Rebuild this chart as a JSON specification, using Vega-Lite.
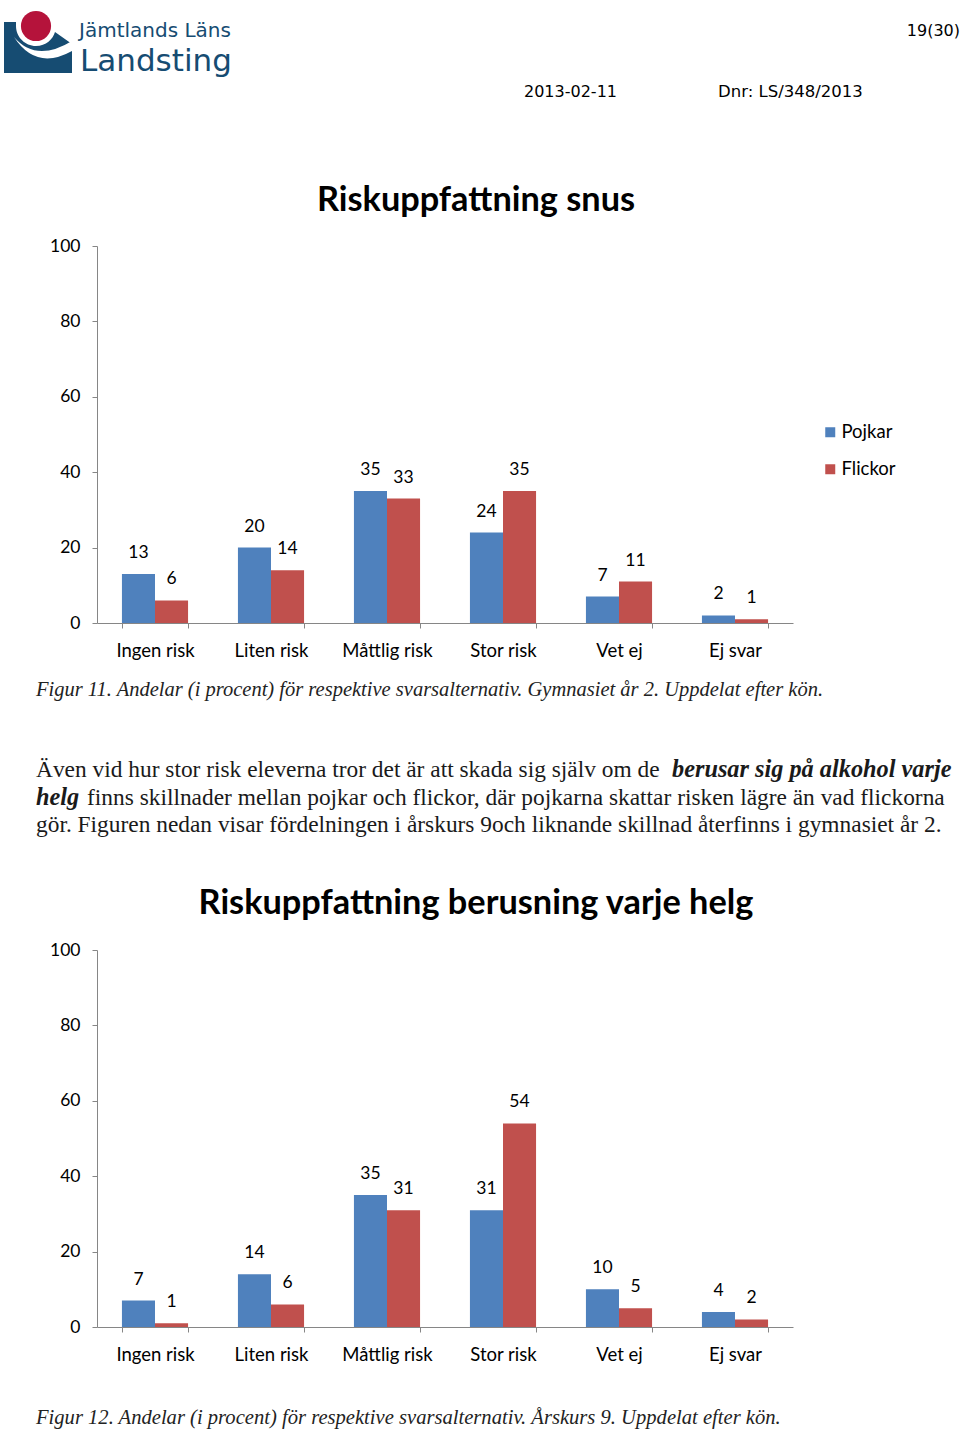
{
  "$schema": "https://vega.github.io/schema/vega-lite/v6.json",
  "background": "white",
  "padding": {"left": 4, "top": 10, "right": 0, "bottom": 0},
  "bounds": "flush",
  "spacing": 327,
  "config": {
    "view": {"stroke": null},
    "font": "Lato",
    "axis": {"domainColor": "#868686", "tickColor": "#868686", "labelColor": "#000000", "labelFont": "Lato", "labelFontSize": 17.5, "tickSize": 5, "grid": false, "title": null, "labelPadding": 12},
    "legend": {"title": null, "orient": "none", "legendX": 724, "legendY": 177, "symbolType": "square", "symbolSize": 100, "labelFont": "Lato", "labelFontSize": 18.5, "labelColor": "#000000", "rowPadding": 18, "labelOffset": 2, "padding": 0, "symbolStrokeWidth": 0}
  },
  "datasets": {
    "snus": [
      {"Svar": "Ingen risk", "Kon": "Pojkar", "Andel": 13},
      {"Svar": "Ingen risk", "Kon": "Flickor", "Andel": 6},
      {"Svar": "Liten risk", "Kon": "Pojkar", "Andel": 20},
      {"Svar": "Liten risk", "Kon": "Flickor", "Andel": 14},
      {"Svar": "Måttlig risk", "Kon": "Pojkar", "Andel": 35},
      {"Svar": "Måttlig risk", "Kon": "Flickor", "Andel": 33},
      {"Svar": "Stor risk", "Kon": "Pojkar", "Andel": 24},
      {"Svar": "Stor risk", "Kon": "Flickor", "Andel": 35},
      {"Svar": "Vet ej", "Kon": "Pojkar", "Andel": 7},
      {"Svar": "Vet ej", "Kon": "Flickor", "Andel": 11},
      {"Svar": "Ej svar", "Kon": "Pojkar", "Andel": 2},
      {"Svar": "Ej svar", "Kon": "Flickor", "Andel": 1}
    ],
    "helg": [
      {"Svar": "Ingen risk", "Kon": "Pojkar", "Andel": 7},
      {"Svar": "Ingen risk", "Kon": "Flickor", "Andel": 1},
      {"Svar": "Liten risk", "Kon": "Pojkar", "Andel": 14},
      {"Svar": "Liten risk", "Kon": "Flickor", "Andel": 6},
      {"Svar": "Måttlig risk", "Kon": "Pojkar", "Andel": 35},
      {"Svar": "Måttlig risk", "Kon": "Flickor", "Andel": 31},
      {"Svar": "Stor risk", "Kon": "Pojkar", "Andel": 31},
      {"Svar": "Stor risk", "Kon": "Flickor", "Andel": 54},
      {"Svar": "Vet ej", "Kon": "Pojkar", "Andel": 10},
      {"Svar": "Vet ej", "Kon": "Flickor", "Andel": 5},
      {"Svar": "Ej svar", "Kon": "Pojkar", "Andel": 4},
      {"Svar": "Ej svar", "Kon": "Flickor", "Andel": 2}
    ]
  },
  "vconcat": [
    {
      "width": 696,
      "height": 377,
      "layer": [
        {
          "data": {"name": "snus"},
          "mark": {"type": "bar"},
          "encoding": {
            "x": {"field": "Svar", "type": "nominal", "sort": ["Ingen risk", "Liten risk", "Måttlig risk", "Stor risk", "Vet ej", "Ej svar"], "scale": {"paddingInner": 0.43, "paddingOuter": 0.215}, "axis": {"labelAngle": 0, "tickBand": "extent", "labelFontSize": 18.5, "labelPadding": 13}},
            "xOffset": {"field": "Kon", "type": "nominal", "sort": ["Pojkar", "Flickor"], "scale": {"paddingInner": 0, "paddingOuter": 0}},
            "y": {"field": "Andel", "type": "quantitative", "scale": {"domain": [0, 100]}, "axis": {"values": [0, 20, 40, 60, 80, 100]}},
            "color": {"field": "Kon", "type": "nominal", "scale": {"domain": ["Pojkar", "Flickor"], "range": ["#4F81BD", "#C0504D"]}}
          }
        },
        {
          "data": {"name": "snus"},
          "mark": {"type": "text", "baseline": "middle", "dy": -21, "fontSize": 17.5, "font": "Lato", "color": "#000000"},
          "encoding": {
            "x": {"field": "Svar", "type": "nominal", "sort": ["Ingen risk", "Liten risk", "Måttlig risk", "Stor risk", "Vet ej", "Ej svar"]},
            "xOffset": {"field": "Kon", "type": "nominal", "sort": ["Pojkar", "Flickor"]},
            "y": {"field": "Andel", "type": "quantitative"},
            "text": {"field": "Andel", "type": "quantitative"}
          }
        },
        {
          "data": {"values": [{}]},
          "mark": {"type": "point", "shape": "M-1,-0.765 L-0.647,-0.765 L-0.647,-0.647 C-0.647,-0.324 -0.382,-0.059 -0.059,-0.059 C0.235,-0.059 0.441,-0.265 0.5,-0.471 L1,-0.118 L1,0.735 L-1,0.735 Z", "filled": true, "size": 4624, "color": "#164C72", "opacity": 1, "strokeWidth": 0},
          "encoding": {"x": {"value": -59}, "y": {"value": -198}}
        },
        {
          "data": {"values": [{}]},
          "mark": {"type": "point", "shape": "M-0.706,-0.324 Q-0.059,0.441 1,-0.206 L1,0.088 Q-0.059,0.676 -0.706,-0.324 Z", "filled": true, "size": 4624, "color": "#ffffff", "opacity": 1, "strokeWidth": 0},
          "encoding": {"x": {"value": -59}, "y": {"value": -198}}
        },
        {
          "data": {"values": [{}]},
          "mark": {"type": "point", "shape": "circle", "filled": true, "size": 908, "color": "#B5133B", "opacity": 1, "strokeWidth": 0},
          "encoding": {"x": {"value": -61}, "y": {"value": -220}}
        },
        {
          "data": {"values": [{}]},
          "mark": {"type": "text", "align": "left", "baseline": "alphabetic", "font": "DejaVu Sans", "fontSize": 20, "color": "#164C72", "text": "Jämtlands Läns"},
          "encoding": {"x": {"value": -18}, "y": {"value": -209}}
        },
        {
          "data": {"values": [{}]},
          "mark": {"type": "text", "align": "left", "baseline": "alphabetic", "font": "DejaVu Sans", "fontSize": 31, "color": "#164C72", "text": "Landsting"},
          "encoding": {"x": {"value": -17}, "y": {"value": -175}}
        },
        {
          "data": {"values": [{}]},
          "mark": {"type": "text", "align": "right", "baseline": "middle", "font": "DejaVu Sans", "fontSize": 16, "color": "#000000", "text": "19(30)"},
          "encoding": {"x": {"value": 863}, "y": {"value": -215}}
        },
        {
          "data": {"values": [{}]},
          "mark": {"type": "text", "align": "left", "baseline": "middle", "font": "DejaVu Sans", "fontSize": 16, "color": "#000000", "text": "2013-02-11"},
          "encoding": {"x": {"value": 427}, "y": {"value": -154}}
        },
        {
          "data": {"values": [{}]},
          "mark": {"type": "text", "align": "left", "baseline": "middle", "font": "DejaVu Sans", "fontSize": 16.5, "color": "#000000", "text": "Dnr: LS/348/2013"},
          "encoding": {"x": {"value": 621}, "y": {"value": -154}}
        },
        {
          "data": {"values": [{}]},
          "mark": {"type": "text", "align": "center", "baseline": "middle", "font": "Lato", "fontWeight": "bold", "fontSize": 34.3, "color": "#000000", "text": "Riskuppfattning snus"},
          "encoding": {"x": {"value": 379}, "y": {"value": -45}}
        },
        {
          "data": {"values": [{}]},
          "mark": {"type": "text", "align": "left", "baseline": "alphabetic", "font": "Liberation Serif", "fontStyle": "italic", "fontSize": 20.5, "color": "#222222", "text": "Figur 11. Andelar (i procent) för respektive svarsalternativ. Gymnasiet år 2. Uppdelat efter kön."},
          "encoding": {"x": {"value": -61}, "y": {"value": 450}}
        },
        {
          "data": {"values": [{}]},
          "mark": {"type": "text", "align": "left", "baseline": "alphabetic", "font": "Liberation Serif", "fontSize": 23.4, "color": "#1a1a1a", "text": "Även vid hur stor risk eleverna tror det är att skada sig själv om de"},
          "encoding": {"x": {"value": -61}, "y": {"value": 531}}
        },
        {
          "data": {"values": [{}]},
          "mark": {"type": "text", "align": "left", "baseline": "alphabetic", "font": "Liberation Serif", "fontStyle": "italic", "fontWeight": "bold", "fontSize": 24.3, "color": "#1a1a1a", "text": "berusar sig på alkohol varje"},
          "encoding": {"x": {"value": 575}, "y": {"value": 531}}
        },
        {
          "data": {"values": [{}]},
          "mark": {"type": "text", "align": "left", "baseline": "alphabetic", "font": "Liberation Serif", "fontStyle": "italic", "fontWeight": "bold", "fontSize": 24.3, "color": "#1a1a1a", "text": "helg"},
          "encoding": {"x": {"value": -61}, "y": {"value": 559}}
        },
        {
          "data": {"values": [{}]},
          "mark": {"type": "text", "align": "left", "baseline": "alphabetic", "font": "Liberation Serif", "fontSize": 23.4, "color": "#1a1a1a", "text": "finns skillnader mellan pojkar och flickor, där pojkarna skattar risken lägre än vad flickorna"},
          "encoding": {"x": {"value": -10}, "y": {"value": 559}}
        },
        {
          "data": {"values": [{}]},
          "mark": {"type": "text", "align": "left", "baseline": "alphabetic", "font": "Liberation Serif", "fontSize": 23.4, "color": "#1a1a1a", "text": "gör. Figuren nedan visar fördelningen i årskurs 9och liknande skillnad återfinns i gymnasiet år 2."},
          "encoding": {"x": {"value": -61}, "y": {"value": 586}}
        }
      ]
    },
    {
      "width": 696,
      "height": 377,
      "layer": [
        {
          "data": {"name": "helg"},
          "mark": {"type": "bar"},
          "encoding": {
            "x": {"field": "Svar", "type": "nominal", "sort": ["Ingen risk", "Liten risk", "Måttlig risk", "Stor risk", "Vet ej", "Ej svar"], "scale": {"paddingInner": 0.43, "paddingOuter": 0.215}, "axis": {"labelAngle": 0, "tickBand": "extent", "labelFontSize": 18.5, "labelPadding": 13}},
            "xOffset": {"field": "Kon", "type": "nominal", "sort": ["Pojkar", "Flickor"], "scale": {"paddingInner": 0, "paddingOuter": 0}},
            "y": {"field": "Andel", "type": "quantitative", "scale": {"domain": [0, 100]}, "axis": {"values": [0, 20, 40, 60, 80, 100]}},
            "color": {"field": "Kon", "type": "nominal", "scale": {"domain": ["Pojkar", "Flickor"], "range": ["#4F81BD", "#C0504D"]}}
          }
        },
        {
          "data": {"name": "helg"},
          "mark": {"type": "text", "baseline": "middle", "dy": -21, "fontSize": 17.5, "font": "Lato", "color": "#000000"},
          "encoding": {
            "x": {"field": "Svar", "type": "nominal", "sort": ["Ingen risk", "Liten risk", "Måttlig risk", "Stor risk", "Vet ej", "Ej svar"]},
            "xOffset": {"field": "Kon", "type": "nominal", "sort": ["Pojkar", "Flickor"]},
            "y": {"field": "Andel", "type": "quantitative"},
            "text": {"field": "Andel", "type": "quantitative"}
          }
        },
        {
          "data": {"values": [{}]},
          "mark": {"type": "text", "align": "center", "baseline": "middle", "font": "Lato", "fontWeight": "bold", "fontSize": 34.3, "color": "#000000", "text": "Riskuppfattning berusning varje helg"},
          "encoding": {"x": {"value": 379}, "y": {"value": -46}}
        },
        {
          "data": {"values": [{}]},
          "mark": {"type": "text", "align": "left", "baseline": "alphabetic", "font": "Liberation Serif", "fontStyle": "italic", "fontSize": 20.6, "color": "#222222", "text": "Figur 12. Andelar (i procent) för respektive svarsalternativ. Årskurs 9. Uppdelat efter kön."},
          "encoding": {"x": {"value": -61}, "y": {"value": 474}}
        }
      ]
    }
  ]
}
